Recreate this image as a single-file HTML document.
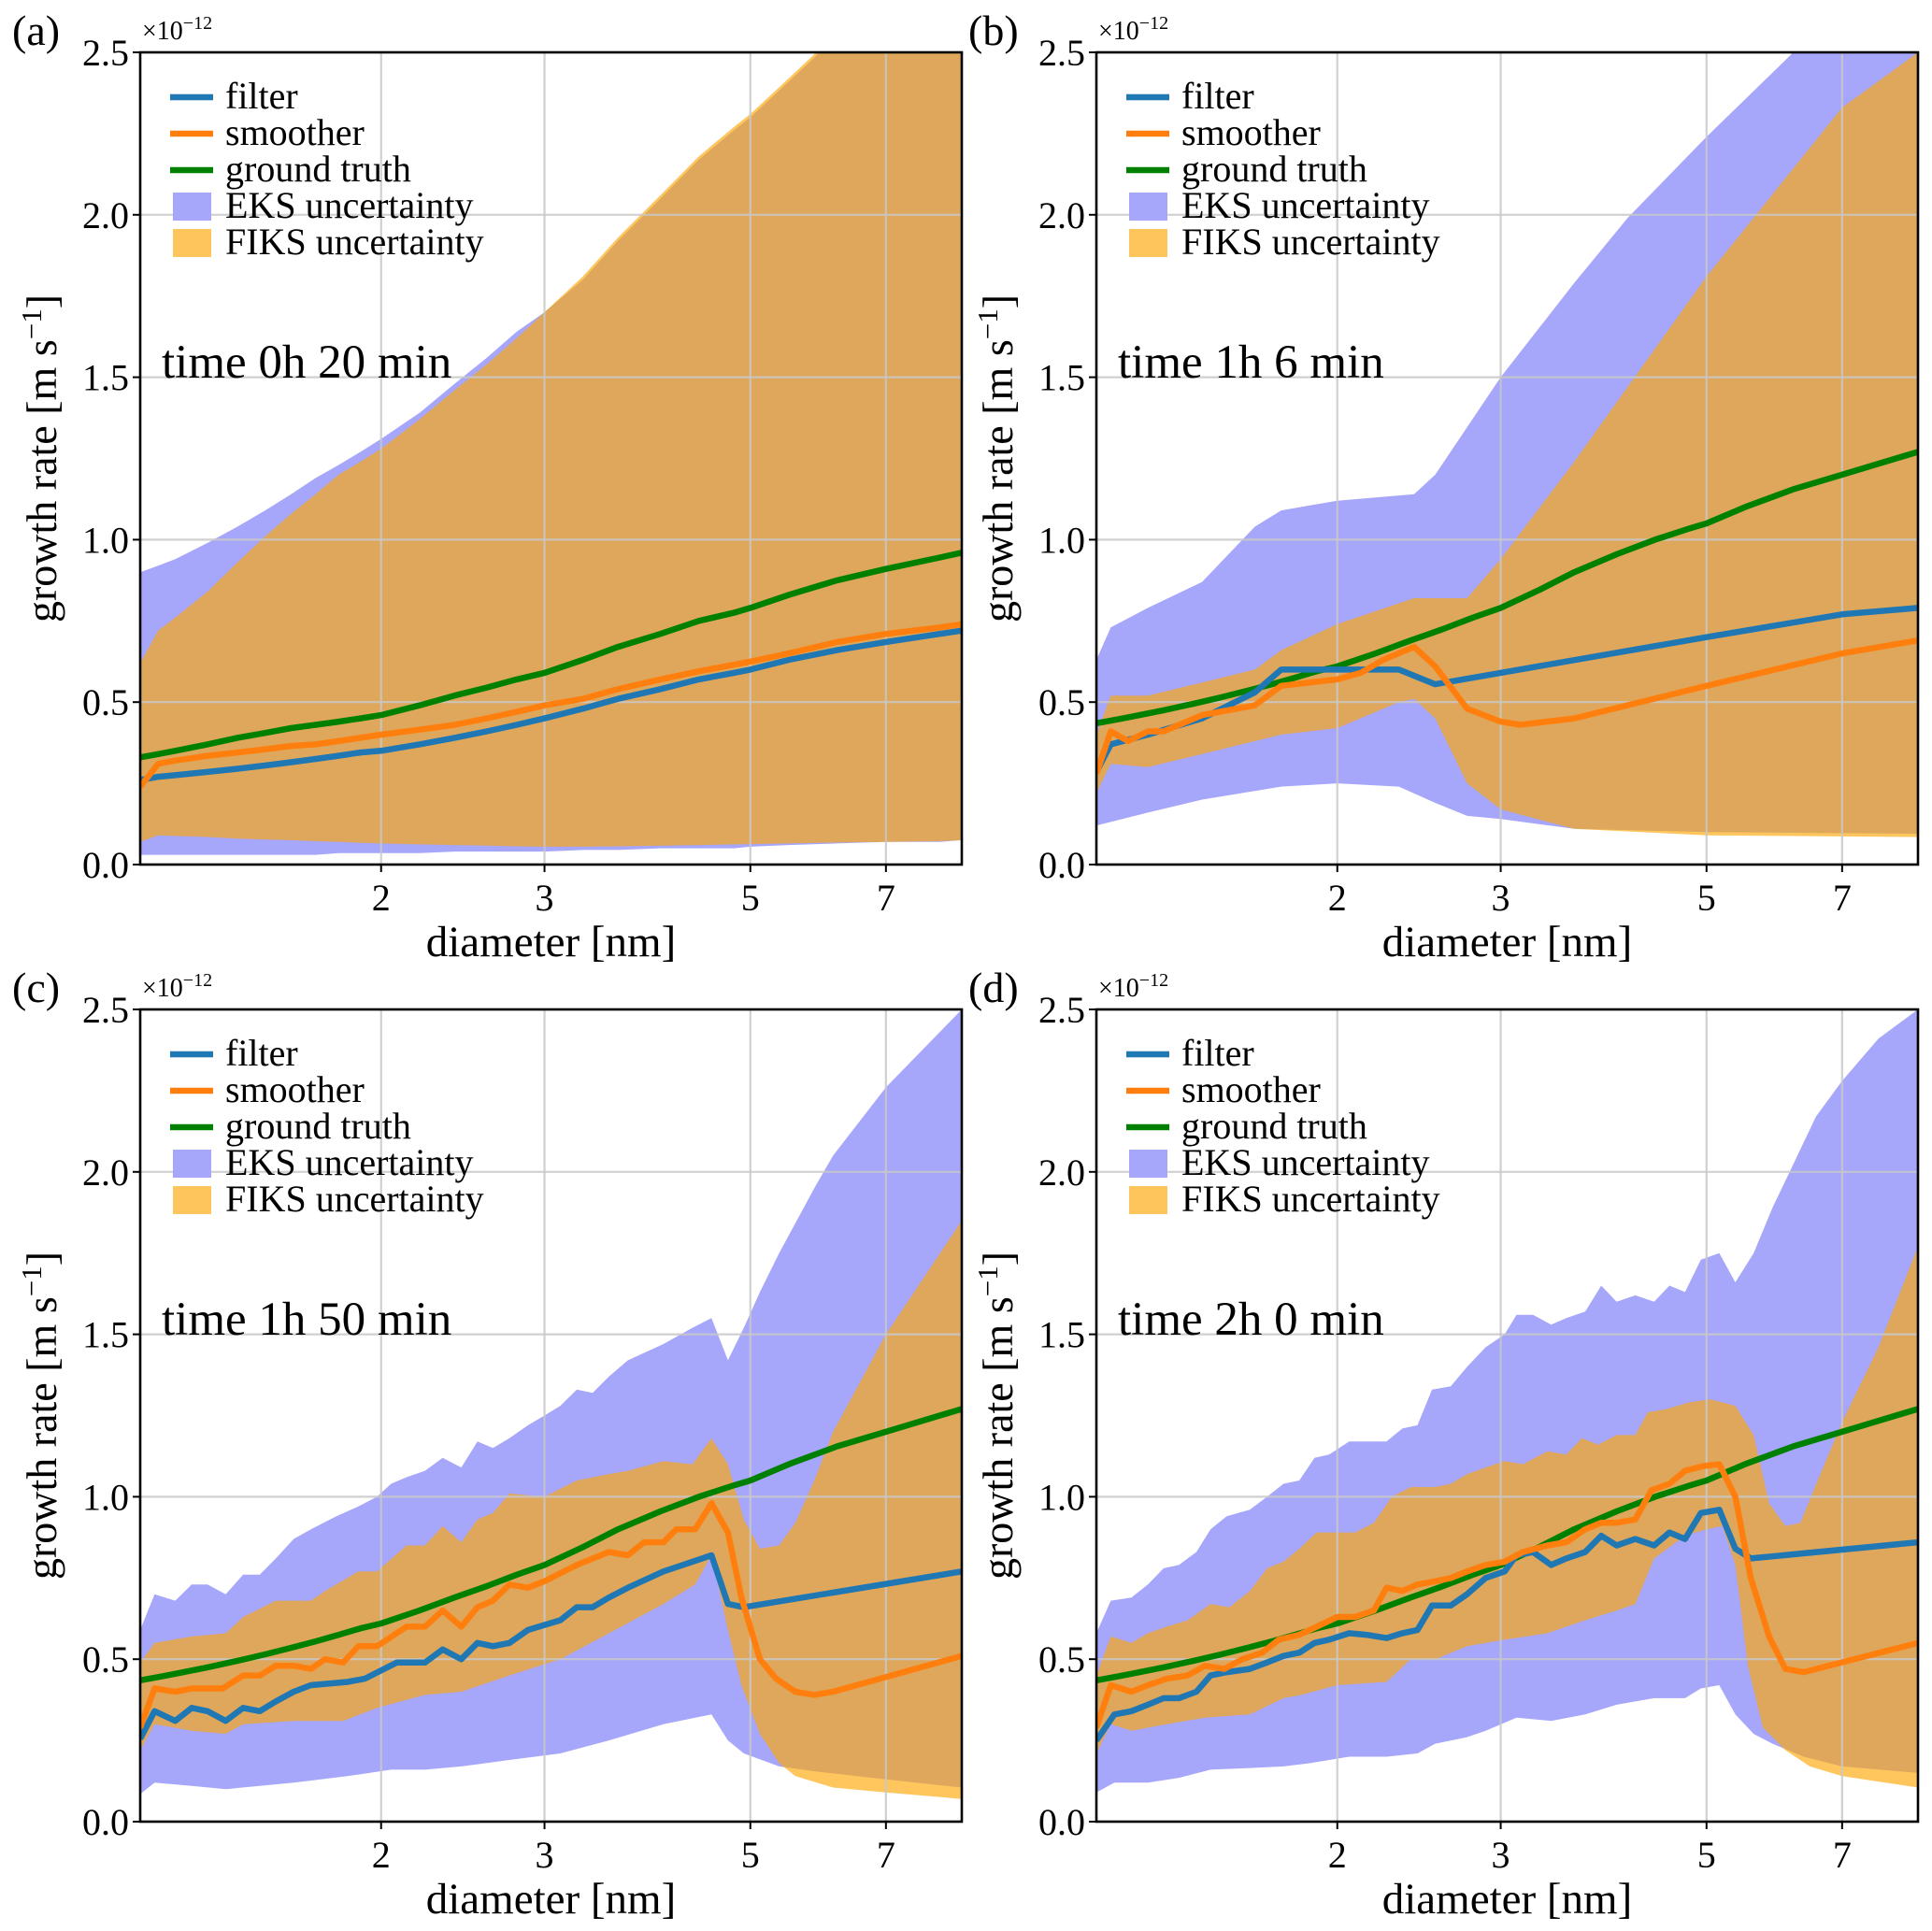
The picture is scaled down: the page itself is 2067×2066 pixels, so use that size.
<!DOCTYPE html>
<html><head><meta charset="utf-8"><style>
html,body{margin:0;padding:0;background:#fff;}
svg{display:block;font-family:"Liberation Serif",serif;}
</style></head><body>
<svg id="fig" xmlns="http://www.w3.org/2000/svg" width="2067" height="2066" viewBox="0 0 2067 2066"></svg>
<script>
// ---------- data (units of 1e-12 m/s, diameters in nm) ----------
const aDiam = [1.1,1.15,1.2,1.3,1.4,1.5,1.6,1.7,1.8,1.9,2.0,2.2,2.4,2.6,2.8,3.0,3.3,3.6,4.0,4.4,4.8,5.0,5.5,6.2,7.0,8.0,8.45];
const aTruth = [.33,.34,.35,.37,.39,.405,.42,.43,.44,.45,.46,.49,.52,.545,.57,.59,.63,.67,.71,.75,.775,.79,.83,.875,.91,.945,.96];
const aFilter = [.26,.27,.275,.285,.295,.305,.315,.325,.335,.345,.35,.37,.39,.41,.43,.45,.48,.51,.54,.57,.59,.60,.63,.66,.685,.71,.72];
const aSmoother = [.24,.31,.32,.335,.345,.355,.365,.37,.38,.39,.40,.415,.43,.45,.47,.49,.51,.54,.57,.595,.615,.625,.65,.685,.71,.73,.74];
const aEksUp = [.90,.92,.94,.99,1.04,1.09,1.14,1.19,1.23,1.27,1.31,1.39,1.48,1.56,1.64,1.70,1.80,1.92,2.05,2.17,2.26,2.30,2.41,2.55,2.67,2.81,2.87];
const aEksLo = [.03,.03,.03,.03,.03,.03,.03,.03,.035,.035,.035,.035,.04,.04,.04,.04,.045,.045,.05,.05,.05,.055,.06,.065,.07,.07,.075];
const aFiksUp = [.62,.72,.76,.84,.93,1.01,1.08,1.14,1.20,1.24,1.28,1.37,1.46,1.54,1.62,1.70,1.81,1.93,2.06,2.18,2.27,2.31,2.42,2.56,2.68,2.82,2.88];
const aFiksLo = [.07,.09,.088,.085,.08,.077,.075,.072,.07,.067,.065,.062,.06,.058,.056,.055,.055,.056,.058,.06,.062,.063,.065,.068,.07,.072,.075];

const tTruth = [.435,.445,.455,.475,.495,.515,.535,.555,.575,.595,.61,.65,.69,.725,.76,.79,.845,.90,.955,1.0,1.035,1.05,1.10,1.155,1.20,1.25,1.27];

const bFilter = [[1.1,.285],[1.14,.37],[1.25,.40],[1.43,.45],[1.63,.53],[1.74,.60],[2.0,.60],[2.33,.60],[2.55,.555],[3.0,.59],[5.0,.70],[7.0,.77],[8.45,.79]];
const bSmoother = [[1.1,.28],[1.14,.41],[1.19,.38],[1.25,.41],[1.30,.41],[1.43,.46],[1.63,.49],[1.74,.55],[2.0,.57],[2.12,.59],[2.24,.63],[2.42,.67],[2.55,.61],[2.76,.48],[3.0,.44],[3.15,.43],[3.6,.45],[5.0,.55],[7.0,.65],[8.45,.69]];
const bEksUp = [[1.1,.63],[1.14,.73],[1.25,.79],[1.43,.87],[1.63,1.04],[1.74,1.09],[2.0,1.12],[2.42,1.14],[2.55,1.20],[3.0,1.50],[3.6,1.79],[4.11,1.99],[5.0,2.24],[6.1,2.48],[7.0,2.65],[8.45,2.9]];
const bEksLo = [[1.1,.12],[1.25,.16],[1.43,.20],[1.74,.24],[2.0,.25],[2.33,.24],[2.55,.19],[2.76,.15],[3.0,.14],[3.6,.11],[5.0,.10],[8.45,.095]];
const bFiksUp = [[1.1,.40],[1.14,.52],[1.25,.52],[1.43,.56],[1.63,.60],[1.74,.66],[2.0,.74],[2.42,.82],[2.76,.82],[3.0,.94],[3.6,1.24],[4.11,1.47],[5.0,1.81],[7.0,2.33],[8.45,2.5]];
const bFiksLo = [[1.1,.22],[1.14,.31],[1.25,.30],[1.43,.34],[1.74,.40],[2.0,.42],[2.33,.50],[2.42,.51],[2.55,.45],[2.76,.25],[3.0,.17],[3.6,.11],[5.0,.09],[8.45,.085]];

const cFilter = [[1.10,.255],[1.14,.34],[1.20,.31],[1.25,.35],[1.30,.34],[1.36,.31],[1.42,.35],[1.48,.34],[1.54,.37],[1.61,.40],[1.68,.42],[1.84,.43],[1.92,.44],[2.08,.49],[2.23,.49],[2.33,.53],[2.44,.50],[2.54,.55],[2.64,.54],[2.75,.55],[2.88,.59],[3.12,.62],[3.25,.66],[3.38,.66],[3.52,.69],[3.69,.72],[4.03,.77],[4.33,.80],[4.54,.82],[4.73,.67],[4.92,.66],[8.45,.77]];
const cSmoother = [[1.10,.29],[1.14,.41],[1.20,.40],[1.25,.41],[1.35,.41],[1.42,.45],[1.48,.45],[1.54,.48],[1.61,.48],[1.68,.47],[1.74,.50],[1.82,.49],[1.89,.54],[1.98,.54],[2.13,.60],[2.23,.60],[2.33,.65],[2.44,.60],[2.54,.66],[2.64,.68],[2.75,.73],[2.88,.72],[3.00,.74],[3.25,.79],[3.52,.83],[3.69,.82],[3.84,.86],[4.03,.86],[4.16,.90],[4.36,.90],[4.54,.98],[4.73,.89],[4.89,.69],[5.12,.50],[5.33,.44],[5.59,.40],[5.86,.39],[6.14,.40],[8.45,.51]];
const cEksUp = [[1.10,.59],[1.14,.70],[1.20,.68],[1.25,.73],[1.30,.73],[1.36,.70],[1.42,.76],[1.48,.76],[1.54,.81],[1.61,.87],[1.68,.90],[1.79,.94],[1.89,.97],[1.98,1.0],[2.05,1.04],[2.13,1.06],[2.23,1.08],[2.33,1.12],[2.44,1.09],[2.54,1.17],[2.64,1.15],[2.75,1.18],[2.88,1.22],[3.00,1.25],[3.12,1.28],[3.25,1.33],[3.38,1.32],[3.52,1.37],[3.69,1.42],[4.03,1.47],[4.33,1.52],[4.54,1.55],[4.73,1.42],[4.92,1.52],[5.12,1.63],[5.37,1.75],[5.86,1.95],[6.14,2.05],[7.0,2.26],[8.45,2.50]];
const cEksLo = [[1.10,.085],[1.14,.12],[1.25,.11],[1.36,.10],[1.48,.11],[1.61,.12],[1.84,.14],[2.05,.16],[2.23,.16],[2.44,.17],[2.75,.19],[3.12,.21],[3.52,.25],[4.03,.30],[4.54,.33],[4.73,.25],[4.92,.21],[5.37,.17],[5.86,.155],[7.0,.13],[8.45,.105]];
const cFiksUp = [[1.10,.49],[1.14,.55],[1.25,.57],[1.36,.58],[1.42,.63],[1.54,.68],[1.68,.68],[1.74,.71],[1.89,.77],[1.98,.77],[2.13,.85],[2.23,.85],[2.33,.91],[2.44,.86],[2.54,.93],[2.64,.95],[2.75,1.01],[3.00,1.0],[3.25,1.05],[3.52,1.07],[3.69,1.08],[4.03,1.11],[4.33,1.10],[4.54,1.18],[4.73,1.10],[4.92,.93],[5.12,.84],[5.37,.85],[5.59,.92],[5.86,1.05],[6.14,1.20],[7.0,1.50],[8.45,1.85]];
const cFiksLo = [[1.10,.22],[1.14,.30],[1.25,.28],[1.36,.27],[1.42,.30],[1.61,.31],[1.82,.31],[1.98,.35],[2.23,.39],[2.44,.40],[2.75,.45],[3.12,.50],[3.52,.58],[4.03,.67],[4.36,.73],[4.54,.82],[4.73,.59],[4.89,.42],[5.12,.27],[5.37,.18],[5.59,.14],[6.14,.105],[7.0,.09],[8.45,.07]];

const dFilter = [[1.10,.25],[1.15,.33],[1.20,.34],[1.25,.36],[1.30,.38],[1.35,.38],[1.41,.40],[1.46,.45],[1.52,.46],[1.61,.47],[1.68,.49],[1.75,.51],[1.82,.52],[1.89,.55],[1.96,.56],[2.06,.58],[2.15,.575],[2.26,.565],[2.35,.58],[2.44,.59],[2.53,.665],[2.65,.665],[2.76,.70],[2.89,.75],[3.03,.77],[3.12,.82],[3.25,.83],[3.40,.79],[3.53,.81],[3.70,.83],[3.85,.88],[4.00,.85],[4.19,.87],[4.39,.85],[4.56,.89],[4.74,.87],[4.93,.95],[5.16,.96],[5.37,.84],[5.58,.81],[8.45,.86]];
const dSmoother = [[1.10,.29],[1.14,.42],[1.20,.40],[1.25,.42],[1.31,.44],[1.38,.45],[1.44,.48],[1.51,.47],[1.58,.50],[1.66,.52],[1.73,.56],[1.82,.575],[1.90,.60],[2.0,.63],[2.09,.63],[2.19,.65],[2.26,.72],[2.35,.71],[2.44,.73],[2.55,.74],[2.65,.75],[2.76,.77],[2.89,.79],[3.03,.80],[3.17,.83],[3.37,.85],[3.53,.86],[3.70,.90],[3.85,.92],[4.00,.92],[4.19,.93],[4.36,1.02],[4.56,1.04],[4.74,1.08],[4.97,1.095],[5.16,1.10],[5.37,1.0],[5.58,.75],[5.84,.57],[6.08,.47],[6.36,.46],[8.45,.55]];
const dEksUp = [[1.10,.58],[1.14,.68],[1.20,.69],[1.25,.73],[1.30,.78],[1.35,.79],[1.41,.83],[1.46,.90],[1.52,.94],[1.61,.96],[1.68,1.0],[1.75,1.04],[1.82,1.05],[1.89,1.12],[1.96,1.13],[2.06,1.17],[2.15,1.17],[2.26,1.17],[2.35,1.21],[2.44,1.22],[2.53,1.33],[2.65,1.34],[2.76,1.40],[2.89,1.46],[3.03,1.50],[3.12,1.56],[3.25,1.56],[3.40,1.53],[3.53,1.55],[3.70,1.57],[3.85,1.65],[4.00,1.60],[4.19,1.62],[4.39,1.60],[4.56,1.65],[4.74,1.63],[4.93,1.73],[5.16,1.75],[5.37,1.66],[5.62,1.75],[5.89,1.89],[6.17,2.01],[6.56,2.17],[7.0,2.28],[7.66,2.41],[8.45,2.5]];
const dEksLo = [[1.10,.09],[1.15,.12],[1.25,.12],[1.35,.135],[1.46,.16],[1.61,.165],[1.75,.17],[1.87,.18],[2.06,.20],[2.26,.20],[2.44,.21],[2.55,.24],[2.76,.26],[2.89,.28],[3.12,.32],[3.40,.31],[3.70,.33],[4.00,.36],[4.39,.38],[4.74,.38],[4.93,.41],[5.16,.42],[5.37,.33],[5.62,.27],[5.89,.24],[6.36,.20],[7.0,.17],[8.45,.15]];
const dFiksUp = [[1.10,.45],[1.14,.57],[1.20,.55],[1.25,.58],[1.31,.60],[1.38,.62],[1.46,.67],[1.53,.66],[1.61,.71],[1.68,.78],[1.75,.80],[1.82,.84],[1.90,.89],[2.0,.89],[2.09,.89],[2.19,.92],[2.29,1.0],[2.40,1.03],[2.55,1.03],[2.65,1.04],[2.76,1.07],[2.89,1.09],[3.03,1.11],[3.17,1.10],[3.37,1.14],[3.53,1.13],[3.67,1.18],[3.82,1.16],[4.00,1.19],[4.19,1.19],[4.32,1.26],[4.53,1.27],[4.78,1.29],[5.05,1.30],[5.37,1.28],[5.62,1.19],[5.84,.98],[6.08,.91],[6.31,.92],[6.61,1.06],[7.0,1.23],[7.66,1.46],[8.45,1.77]];
const dFiksLo = [[1.10,.21],[1.14,.30],[1.20,.28],[1.31,.30],[1.44,.32],[1.61,.33],[1.75,.38],[1.83,.39],[2.0,.42],[2.26,.43],[2.40,.50],[2.55,.50],[2.76,.54],[3.03,.56],[3.37,.58],[3.70,.62],[4.00,.65],[4.19,.67],[4.39,.81],[4.74,.88],[5.0,.90],[5.20,.91],[5.37,.79],[5.54,.48],[5.75,.29],[6.08,.22],[6.46,.17],[7.0,.14],[8.45,.105]];

const xTicks = [2,3,5,7];
const xTickLabels = ["2","3","5","7"];
const yTicks = [0,0.5,1.0,1.5,2.0,2.5];
const yTickLabels = ["0.0","0.5","1.0","1.5","2.0","2.5"];
const panelLetters = ["(a)","(b)","(c)","(d)"];
const panelTimes = ["time 0h 20 min","time 1h 6 min","time 1h 50 min","time 2h 0 min"];
const legendLabels = ["filter","smoother","ground truth","EKS uncertainty","FIKS uncertainty"];
const D_MIN = 1.1, D_MAX = 8.45, Y_MAX = 2.5;

// ---------- drawing ----------
const NS = "http://www.w3.org/2000/svg";
const svg = document.getElementById('fig');
function mk(tag, attrs, parent){
  const e = document.createElementNS(NS, tag);
  for (const k in attrs) e.setAttribute(k, attrs[k]);
  (parent||svg).appendChild(e);
  return e;
}
function zip(xs, ys){ return xs.map((x,i)=>[x, ys[i]]); }

const panels = [
  {x0:150, y0:56, filter:zip(aDiam,aFilter), smoother:zip(aDiam,aSmoother), truth:zip(aDiam,aTruth),
   eksUp:zip(aDiam,aEksUp), eksLo:zip(aDiam,aEksLo), fiksUp:zip(aDiam,aFiksUp), fiksLo:zip(aDiam,aFiksLo)},
  {x0:1173, y0:56, filter:bFilter, smoother:bSmoother, truth:zip(aDiam,tTruth),
   eksUp:bEksUp, eksLo:bEksLo, fiksUp:bFiksUp, fiksLo:bFiksLo},
  {x0:150, y0:1080, filter:cFilter, smoother:cSmoother, truth:zip(aDiam,tTruth),
   eksUp:cEksUp, eksLo:cEksLo, fiksUp:cFiksUp, fiksLo:cFiksLo},
  {x0:1173, y0:1080, filter:dFilter, smoother:dSmoother, truth:zip(aDiam,tTruth),
   eksUp:dEksUp, eksLo:dEksLo, fiksUp:dFiksUp, fiksLo:dFiksLo}
];
const W = 879, H = 869;
const names = ['a','b','c','d'];

panels.forEach((p, pi) => {
  const x0 = p.x0, y0 = p.y0, x1 = x0+W, y1 = y0+H;
  const xs = d => x0 + (Math.log10(d)-Math.log10(D_MIN))/(Math.log10(D_MAX)-Math.log10(D_MIN))*W;
  const ys = v => y1 - v/Y_MAX*H;
  const g = mk('g', {}, svg);
  
  

  const cp = mk('clipPath', {id:'clip'+pi}, g);
  mk('rect', {x:x0, y:y0, width:W, height:H}, cp);
  const plot = mk('g', {'clip-path':'url(#clip'+pi+')'}, g);

  function band(up, lo, fill, op, name){
    const pts = up.map(q=>xs(q[0]).toFixed(1)+','+ys(q[1]).toFixed(1))
      .concat(lo.slice().reverse().map(q=>xs(q[0]).toFixed(1)+','+ys(q[1]).toFixed(1)));
    const e = mk('polygon', {points:pts.join(' '), fill:fill, 'fill-opacity':op, stroke:'none'}, plot);
    
    
  }
  band(p.eksUp, p.eksLo, 'rgb(166,166,250)', 1, 'eks-uncertainty-band');
  band(p.fiksUp, p.fiksLo, 'rgb(253,168,6)', 0.65, 'fiks-uncertainty-band');

  xTicks.forEach(t=>{
    const e = mk('line', {x1:xs(t), x2:xs(t), y1:y0, y2:y1, stroke:'#c8c8c8', 'stroke-width':2.2, 'stroke-opacity':0.85}, plot);
    
    
  });
  yTicks.forEach(t=>{
    const e = mk('line', {x1:x0, x2:x1, y1:ys(t), y2:ys(t), stroke:'#c8c8c8', 'stroke-width':2.2, 'stroke-opacity':0.85}, plot);
    
    
  });

  function line(data, color, name){
    const pts = data.map(q=>xs(q[0]).toFixed(1)+','+ys(q[1]).toFixed(1)).join(' ');
    const e = mk('polyline', {points:pts, fill:'none', stroke:color, 'stroke-width':6.5, 'stroke-linejoin':'round'}, plot);
    
    
  }
  line(p.truth, '#008000', 'ground-truth-line');
  line(p.filter, '#1f77b4', 'filter-line');
  line(p.smoother, '#ff7f0e', 'smoother-line');

  const fr = mk('rect', {x:x0, y:y0, width:W, height:H, fill:'none', stroke:'#000', 'stroke-width':2.6}, g);
  
  

  xTicks.forEach((t,i)=>{
    mk('line', {x1:xs(t), x2:xs(t), y1:y1, y2:y1+8, stroke:'#000', 'stroke-width':2}, g);
    const e = mk('text', {x:xs(t), y:y1+49, 'font-size':40, 'text-anchor':'middle', fill:'#000'}, g);
    e.textContent = xTickLabels[i];
    
    
  });
  yTicks.forEach((t,i)=>{
    mk('line', {x1:x0-8, x2:x0, y1:ys(t), y2:ys(t), stroke:'#000', 'stroke-width':2}, g);
    const e = mk('text', {x:x0-12, y:ys(t)+14, 'font-size':40, 'text-anchor':'end', fill:'#000'}, g);
    e.textContent = yTickLabels[i];
    
    
  });

  const mult = mk('text', {x:x0+2, y:y0-14, 'font-size':28, fill:'#000'}, g);
  
  
  mult.innerHTML = '×10<tspan dy="-11" font-size="20">−12</tspan>';

  const pl = mk('text', {x:x0-137, y:y0-8, 'font-size':46, fill:'#000'}, g);
  pl.textContent = panelLetters[pi];
  
  

  const xt = mk('text', {x:x0+W/2, y:y1+98, 'font-size':47, 'text-anchor':'middle', fill:'#000'}, g);
  xt.textContent = 'diameter [nm]';
  
  
  const yt = mk('text', {x:0, y:0, 'font-size':46, 'text-anchor':'middle', fill:'#000',
    transform:'translate('+(x0-90)+','+(y0+H*0.5)+') rotate(-90)'}, g);
  yt.innerHTML = 'growth rate [m s<tspan dy="-16" font-size="31">−1</tspan><tspan dy="16">]</tspan>';
  
  

  const tm = mk('text', {x:x0+23, y:y0+348, 'font-size':51, fill:'#000'}, g);
  tm.textContent = panelTimes[pi];
  
  

  const lg = mk('g', {}, g);
  
  
  const colors = ['#1f77b4','#ff7f0e','#008000','rgb(166,166,250)','rgb(254,197,93)'];
  legendLabels.forEach((lab, i)=>{
    const cy = y0 + 48 + i*39;
    let h;
    if (i < 3) {
      h = mk('line', {x1:x0+32, x2:x0+78, y1:cy, y2:cy, stroke:colors[i], 'stroke-width':6.5}, lg);
    } else {
      h = mk('rect', {x:x0+35, y:cy-15, width:41, height:30, fill:colors[i]}, lg);
    }
    
    
    const t = mk('text', {x:x0+91, y:cy+12, 'font-size':40, fill:'#000'}, lg);
    t.textContent = lab;
    
    
  });
});
</script>
</body></html>
